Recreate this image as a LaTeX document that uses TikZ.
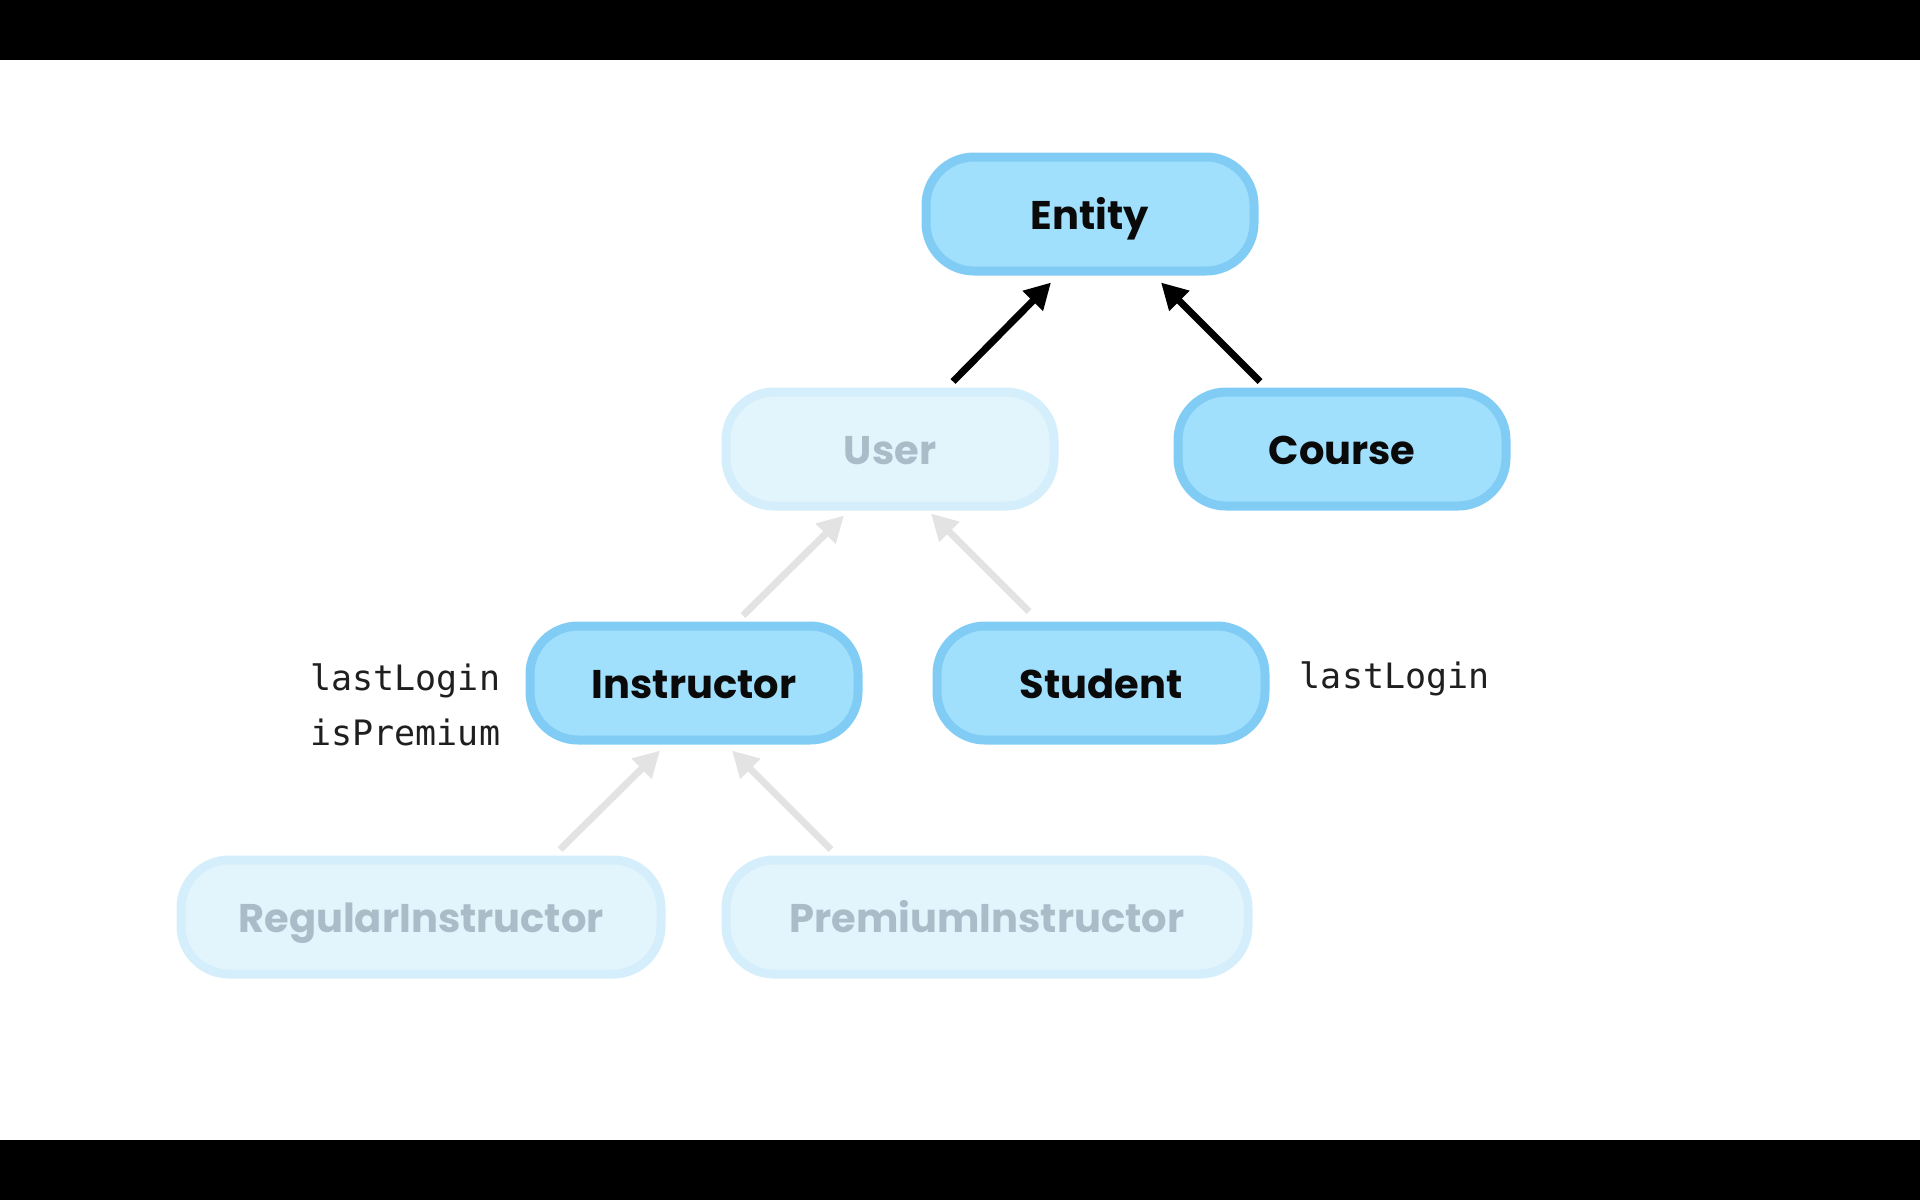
\documentclass[tikz,border=0pt]{standalone}
\usepackage{fontspec}
\setmainfont{Poppins}
\newfontfamily\codefont{DejaVu Sans Mono}
\usetikzlibrary{arrows.meta, positioning, calc}

\definecolor{boxfill}{HTML}{A0E0FC}
\definecolor{boxline}{HTML}{80CCF5}
\definecolor{dimfill}{HTML}{E2F5FD}
\definecolor{dimline}{HTML}{D5EEFB}
\definecolor{dimtext}{HTML}{A9BCC7}
\definecolor{dimarrowc}{HTML}{E3E3E3}

\begin{document}
\begin{tikzpicture}[
  x=0.5pt, y=-0.5pt,
  box/.style     = {draw=boxline, fill=boxfill, line width=4.5pt, rounded corners=24pt,
                    minimum height=57pt, minimum width=164pt, inner sep=0pt,
                    text height=18pt, text depth=3pt,
                    font=\fontsize{20}{24}\selectfont\bfseries, text=black!96},
  dimbox/.style  = {box, draw=dimline, fill=dimfill, text=dimtext},
  arrow/.style   = {line width=3.5pt, -{Triangle[length=13pt, width=13.5pt]}},
  dimarrow/.style= {arrow, draw=dimarrowc},
  attr/.style    = {font=\codefont\fontsize{17.5}{27.5}\selectfont, text=black!88, inner sep=0pt}
]
  \useasboundingbox (0,0) rectangle (1920,1200);

  % letterbox bars
  \fill[black] (0,0) rectangle (1920,60);
  \fill[black] (0,1140) rectangle (1920,1200);

  % classes
  \node[box]    (entity)     at (1090,214) {Entity};
  \node[dimbox] (user)       at (890,449)  {User};
  \node[box]    (course)     at (1342,449) {Course};
  \node[box]    (instructor) at (694,683)  {Instructor};
  \node[box]    (student)    at (1101,683) {Student};
  \node[dimbox, minimum width=240pt] (regular) at (421,917) {RegularInstructor};
  \node[dimbox, minimum width=261pt] (premium) at (987,917) {PremiumInstructor};

  % attributes
  \node[attr, align=right, anchor=east] (instattr) at ($(instructor.west)+(-25,22)$)
    {lastLogin\\isPremium};
  \node[attr, anchor=west] (studattr) at ($(student.east)+(30,-4)$) {lastLogin};

  % inheritance arrows
  \draw[arrow] ($(user.north)+(63,-6)$) -- ($(entity.south)+(-39,7)$);
  \draw[arrow] ($(course.north)+(-82,-6)$) -- ($(entity.south)+(71,7)$);
  \draw[dimarrow] ($(instructor.north)+(49,-6)$) -- ($(user.south)+(-46,5)$);
  \draw[dimarrow] ($(student.north)+(-72,-10)$) -- ($(user.south)+(41,3)$);
  \draw[dimarrow] ($(regular.north)+(139,-6)$) -- ($(instructor.south)+(-34,6)$);
  \draw[dimarrow] ($(premium.north)+(-156,-6)$) -- ($(instructor.south)+(38,6)$);

\end{tikzpicture}
\end{document}
